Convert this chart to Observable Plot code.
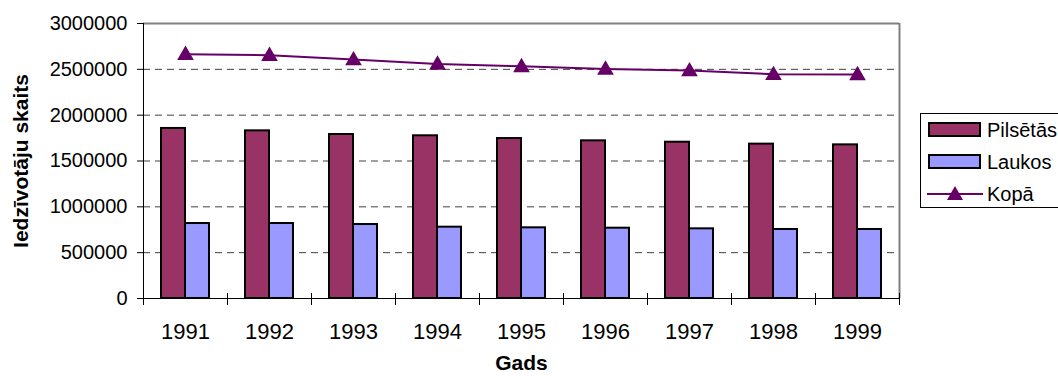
<!DOCTYPE html>
<html>
<head>
<meta charset="utf-8">
<script src="https://cdn.jsdelivr.net/npm/d3@7"></script>
<script src="https://cdn.jsdelivr.net/npm/@observablehq/plot@0.6"></script>
<style>
  html, body { margin: 0; padding: 0; background: #fff; }
  #wrap { position: relative; width: 1058px; height: 381px; overflow: hidden; font-family: "Liberation Sans", Arial, sans-serif; }
  #legend { position: absolute; left: 920px; top: 113px; width: 150px; height: 95px; border: 1px solid #000; background: #fff; box-sizing: border-box; }
  .li { position: absolute; left: 6px; height: 24px; display: flex; align-items: center; font-size: 20px; color: #000; }
  .li svg { margin-right: 4px; }
</style>
</head>
<body>
<div id="wrap"></div>
<script>
const years = ["1991","1992","1993","1994","1995","1996","1997","1998","1999"];
const pilsetas = [1855000, 1829000, 1789000, 1775000, 1745000, 1720000, 1705000, 1684000, 1676000];
const laukos   = [818000, 818000, 807000, 778000, 771000, 767000, 760000, 753000, 753000];
const kopa     = [2665000, 2654000, 2607000, 2558000, 2533000, 2504000, 2487000, 2446000, 2444000];
const seriesNames = ["Pilsētās", "Laukos", "Kopā"];
const yTicks = [0, 500000, 1000000, 1500000, 2000000, 2500000, 3000000];
const gridTicks = [500000, 1000000, 1500000, 2000000, 2500000];
const colors = {"Pilsētās": "#993366", "Laukos": "#9999FF", "Kopā": "#660066"};

const urbanRows = years.map((y, i) => ({year: y, value: pilsetas[i]}));
const ruralRows = years.map((y, i) => ({year: y, value: laukos[i]}));
const totalRows = years.map((y, i) => ({year: y, value: kopa[i]}));

const font = '"Liberation Sans", Arial, sans-serif';

const chart = Plot.plot({
  width: 1058,
  height: 381,
  marginLeft: 143,
  marginRight: 159,
  marginTop: 23,
  marginBottom: 83,
  style: {fontFamily: font, background: "#fff", color: "#000", overflow: "visible"},
  x: {domain: years, type: "band", paddingInner: 0.7143, paddingOuter: 0.357, align: 0.5, axis: null},
  y: {domain: [0, 3000000], axis: null},
  marks: [
    Plot.ruleY(gridTicks, {stroke: "#404040", strokeWidth: 1, strokeDasharray: "7,5"}),
    Plot.ruleY([3000000], {stroke: "#808080", strokeWidth: 2}),
    Plot.ruleX(years.slice(-1), {x: d => d, dx: 42, stroke: "#808080", strokeWidth: 2}),
    Plot.barY(urbanRows, {x: "year", y: "value", dx: -12, fill: colors["Pilsētās"], stroke: "#000", strokeWidth: 2}),
    Plot.barY(ruralRows, {x: "year", y: "value", dx: 12, fill: colors["Laukos"], stroke: "#000", strokeWidth: 2}),
    Plot.line(totalRows, {x: "year", y: "value", stroke: colors["Kopā"], strokeWidth: 2}),
    Plot.dot(totalRows, {x: "year", y: "value", symbol: "triangle", r: 6.2, fill: colors["Kopā"], stroke: "none", dy: 1}),
    // axes lines
    Plot.ruleY([0], {stroke: "#000", strokeWidth: 1}),
    Plot.ruleX(years.slice(0, 1), {x: d => d, dx: -42, stroke: "#000", strokeWidth: 1}),
    // x category boundary ticks
    Plot.ruleX(years, {x: d => d, dx: -42, stroke: "#000", strokeWidth: 1, insetTop: 270, insetBottom: -7}),
    Plot.ruleX(years.slice(-1), {x: d => d, dx: 42, stroke: "#000", strokeWidth: 1, insetTop: 270, insetBottom: -7}),
    Plot.axisY(yTicks, {tickSize: 6, tickPadding: 10, fontSize: 20, tickFormat: d3.format("d"), label: null, stroke: "#000"}),
    Plot.axisX({tickSize: 0, tickPadding: 25, fontSize: 22, label: null}),
    Plot.text(["Gads"], {frameAnchor: "bottom", textAnchor: "middle", dy: 71, fontSize: 21, fontWeight: "bold", fill: "#000"}),
    Plot.text(["Iedzīvotāju skaits"], {frameAnchor: "left", textAnchor: "middle", lineAnchor: "middle", dx: -122, rotate: -90, fontSize: 21, fontWeight: "bold", fill: "#000"})
  ]
});

const wrap = document.getElementById("wrap");
wrap.appendChild(chart);

// Legend
const legend = document.createElement("div");
legend.id = "legend";
const rowsTop = [4, 36, 68];
seriesNames.forEach((name, i) => {
  const item = document.createElement("div");
  item.className = "li";
  item.style.top = rowsTop[i] + "px";
  let sw;
  if (name === "Kopā") {
    sw = `<svg width="56" height="24"><line x1="0" y1="12" x2="56" y2="12" stroke="${colors[name]}" stroke-width="2"/><path d="M28,4 L36,18 L20,18 Z" fill="${colors[name]}"/></svg>`;
  } else {
    sw = `<svg width="56" height="24"><rect x="2" y="5" width="51" height="13" fill="${colors[name]}" stroke="#000" stroke-width="2"/></svg>`;
  }
  item.innerHTML = sw + `<span>${name}</span>`;
  legend.appendChild(item);
});
wrap.appendChild(legend);
</script>
</body>
</html>
